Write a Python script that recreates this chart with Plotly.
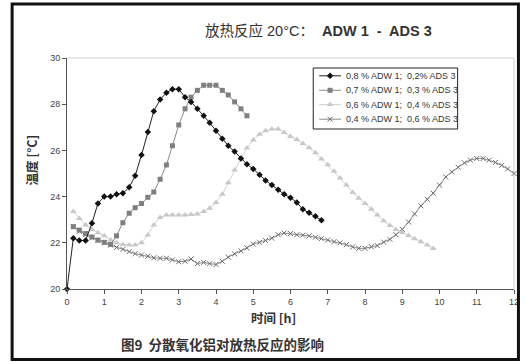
import plotly.graph_objects as go

# ---- data ----
time_h = [0.00, 0.17, 0.33, 0.50, 0.67, 0.83, 1.00, 1.17, 1.33, 1.50, 1.67, 1.83,
          2.00, 2.17, 2.33, 2.50, 2.67, 2.83, 3.00, 3.17, 3.33, 3.50, 3.67, 3.83,
          4.00, 4.17, 4.33, 4.50, 4.67, 4.83, 5.00, 5.17, 5.33, 5.50, 5.67, 5.83,
          6.00, 6.17, 6.33, 6.50, 6.67, 6.83, 7.00, 7.17, 7.33, 7.50, 7.67, 7.83,
          8.00, 8.17, 8.33, 8.50, 8.67, 8.83, 9.00, 9.17, 9.33, 9.50, 9.67, 9.83,
          10.00, 10.17, 10.33, 10.50, 10.67, 10.83, 11.00, 11.17, 11.33, 11.50, 11.67, 11.83,
          12.00]

names = ["0,8 % ADW 1;  0,2% ADS 3",
         "0,7 % ADW 1;  0,3 % ADS 3",
         "0,6 % ADW 1;  0,4 % ADS 3",
         "0,4 % ADW 1;  0,6 % ADS 3"]

s1 = [20.0, 22.2, 22.1, 22.1, 22.85, 23.7, 24.0, 24.0, 24.1, 24.15, 24.4, 24.9,
      25.8, 26.8, 27.7, 28.2, 28.5, 28.65, 28.65, 28.3, 28.1, 27.8, 27.5, 27.2,
      26.85, 26.5, 26.2, 25.95, 25.65, 25.4, 25.2, 24.95, 24.7, 24.5, 24.3, 24.1,
      23.95, 23.75, 23.45, 23.3, 23.15, 22.98]

s2 = [22.7, 22.55, 22.4, 22.25, 22.12, 22.02, 21.93, 22.3, 22.87, 23.28, 23.52,
      23.7, 23.97, 24.2, 24.75, 25.37, 26.2, 27.1, 27.8, 28.3, 28.6, 28.82, 28.82,
      28.82, 28.6, 28.4, 28.1, 27.8, 27.5]

s3 = [23.35, 23.05, 22.77, 22.58, 22.44, 22.3, 22.12, 22.0, 21.93, 21.9, 21.9,
      22.0, 22.34, 22.77, 23.1, 23.2, 23.2, 23.2, 23.2, 23.22, 23.25, 23.35, 23.5,
      23.75, 24.1, 24.6, 25.15, 25.65, 26.1, 26.45, 26.7, 26.85, 26.93, 26.93, 26.78,
      26.6, 26.47, 26.3, 26.12, 25.9, 25.63, 25.38, 25.1, 24.8, 24.5, 24.18, 23.93,
      23.7, 23.45, 23.2, 22.95, 22.75, 22.58, 22.45, 22.32, 22.18, 22.05, 21.9, 21.75]

s4 = [22.7, 22.5, 22.35, 22.22, 22.1, 22.0, 21.9, 21.8, 21.72, 21.62, 21.53,
      21.47, 21.42, 21.35, 21.33, 21.33, 21.26, 21.18, 21.2, 21.3, 21.1, 21.15, 21.1,
      21.06, 21.2, 21.38, 21.52, 21.65, 21.78, 21.95, 22.02, 22.1, 22.2, 22.35, 22.42,
      22.4, 22.35, 22.33, 22.3, 22.24, 22.18, 22.12, 22.05, 22.0, 21.92, 21.82, 21.76,
      21.76, 21.83, 21.88, 22.03, 22.15, 22.35, 22.58, 22.9, 23.25, 23.6, 23.88, 24.15,
      24.5, 24.85, 25.07, 25.27, 25.46, 25.58, 25.65, 25.65, 25.58, 25.48, 25.35, 25.2,
      25.0]

x_ticks = [0, 1, 2, 3, 4, 5, 6, 7, 8, 9, 10, 11, 12]
y_ticks = [20, 22, 24, 26, 28, 30]

# ---- styles ----
styles = [
    dict(line=dict(color="#222222", width=1),
         marker=dict(symbol="diamond", size=5, color="#111111")),
    dict(line=dict(color="#8a8a8a", width=1),
         marker=dict(symbol="square", size=5, color="#7f7f7f")),
    dict(line=dict(color="#d2d2d2", width=1),
         marker=dict(symbol="triangle-up", size=6, color="#c8c8c8")),
    dict(line=dict(color="#8c8c8c", width=1),
         marker=dict(symbol="x-thin", size=5, line=dict(color="#6e6e6e", width=1))),
]
series = [(time_h[0:len(s1)], s1), (time_h[1:1 + len(s2)], s2),
          (time_h[1:1 + len(s3)], s3), (time_h[1:1 + len(s4)], s4)]

fig = go.Figure()
for k in [3, 2, 1, 0]:
    xs, ys = series[k]
    fig.add_trace(go.Scatter(x=xs, y=ys, name=names[k], mode="lines+markers",
                             showlegend=False, cliponaxis=False, **styles[k]))

# ---- layout geometry (pixels) ----
L, R, T, B = 67, 519, 58, 289
W, H = 526, 363

def px(xp):
    return (xp - L) / (R - L)

def py(yp):
    return (B - yp) / (B - T)

base_font = "Liberation Sans, Arial, Noto Sans CJK SC"
cjk_font = "Noto Sans CJK SC, Liberation Sans"

fig.update_layout(
    width=W, height=H,
    margin=dict(l=L, r=W - R, t=T, b=H - B),
    paper_bgcolor="white", plot_bgcolor="white",
    font=dict(family=base_font, size=9, color="#333333"),
    showlegend=False,
    xaxis=dict(range=[0, 12], tickvals=x_ticks, showgrid=False, zeroline=False,
               showline=True, linecolor="#555555", linewidth=1,
               ticks="outside", ticklen=4, tickcolor="#555555",
               tickfont=dict(size=9, color="#444444")),
    yaxis=dict(range=[20, 30], tickvals=y_ticks, showgrid=False, zeroline=False,
               showline=True, linecolor="#555555", linewidth=1,
               ticks="outside", ticklen=4, tickcolor="#555555",
               tickfont=dict(size=9, color="#444444")),
    # overlay axes in pixel units for the hand-drawn legend
    xaxis2=dict(overlaying="x", range=[L, R], visible=False, fixedrange=True),
    yaxis2=dict(overlaying="y", range=[B, T], visible=False, fixedrange=True),
)

# light grey plot-area frame (top and right)
fig.add_shape(type="line", xref="paper", yref="paper", x0=0, x1=1, y0=1, y1=1,
              line=dict(color="#cfcfcf", width=1), layer="below")
fig.add_shape(type="line", xref="paper", yref="paper", x0=1, x1=1, y0=0, y1=1,
              line=dict(color="#cfcfcf", width=1), layer="below")

# outer thick black frame
fig.add_shape(type="rect", xref="paper", yref="paper",
              x0=px(11.5), x1=px(523.5), y0=py(359.5), y1=py(4),
              line=dict(color="#111111", width=3))

# ---- legend (drawn manually to match compact spacing) ----
leg_x0, leg_x1, leg_y0, leg_y1 = 316, 462, 68, 129
fig.add_shape(type="rect", xref="paper", yref="paper",
              x0=px(leg_x0), x1=px(leg_x1), y0=py(leg_y1), y1=py(leg_y0),
              line=dict(color="#222222", width=1), fillcolor="white", layer="below")
entry_y = [75.8, 90.3, 104.6, 119.2]
for k in range(4):
    yk = entry_y[k]
    fig.add_trace(go.Scatter(x=[322, 333, 344], y=[yk, yk, yk], xaxis="x2", yaxis="y2",
                             mode="lines", line=styles[k]["line"], showlegend=False,
                             hoverinfo="skip"))
    fig.add_trace(go.Scatter(x=[333], y=[yk], xaxis="x2", yaxis="y2",
                             mode="markers", marker=styles[k]["marker"], showlegend=False,
                             hoverinfo="skip"))
    fig.add_annotation(xref="paper", yref="paper", x=px(347), y=py(yk),
                       xanchor="left", yanchor="middle", showarrow=False,
                       text=names[k],
                       font=dict(family="Liberation Sans Narrow, Liberation Sans", size=9,
                                 color="#333333"))

# title
fig.add_annotation(xref="paper", yref="paper", x=px(321), y=py(30),
                   xanchor="center", yanchor="middle", showarrow=False,
                   text="放热反应 20°C：  <b>ADW 1  -  ADS 3</b>",
                   font=dict(family=base_font, size=14.5, color="#333333"))
# y axis title
fig.add_annotation(xref="paper", yref="paper", x=px(31), y=py(160),
                   xanchor="center", yanchor="middle", showarrow=False, textangle=-90,
                   text="<b>温度 [°C]</b>",
                   font=dict(family=cjk_font, size=12.5, color="#333333"))
# x axis title
fig.add_annotation(xref="paper", yref="paper", x=px(276), y=py(317),
                   xanchor="center", yanchor="middle", showarrow=False,
                   text="<b>时间 [h]</b>",
                   font=dict(family=cjk_font, size=12.5, color="#333333"))
# caption
fig.add_annotation(xref="paper", yref="paper", x=px(120), y=py(344),
                   xanchor="left", yanchor="middle", showarrow=False,
                   text="<b>图9  分散氧化铝对放热反应的影响</b>",
                   font=dict(family=cjk_font, size=13.5, color="#333333"))

fig.write_html("out.html", config={"displayModeBar": False},
               post_script="document.body.style.margin='0px';")
